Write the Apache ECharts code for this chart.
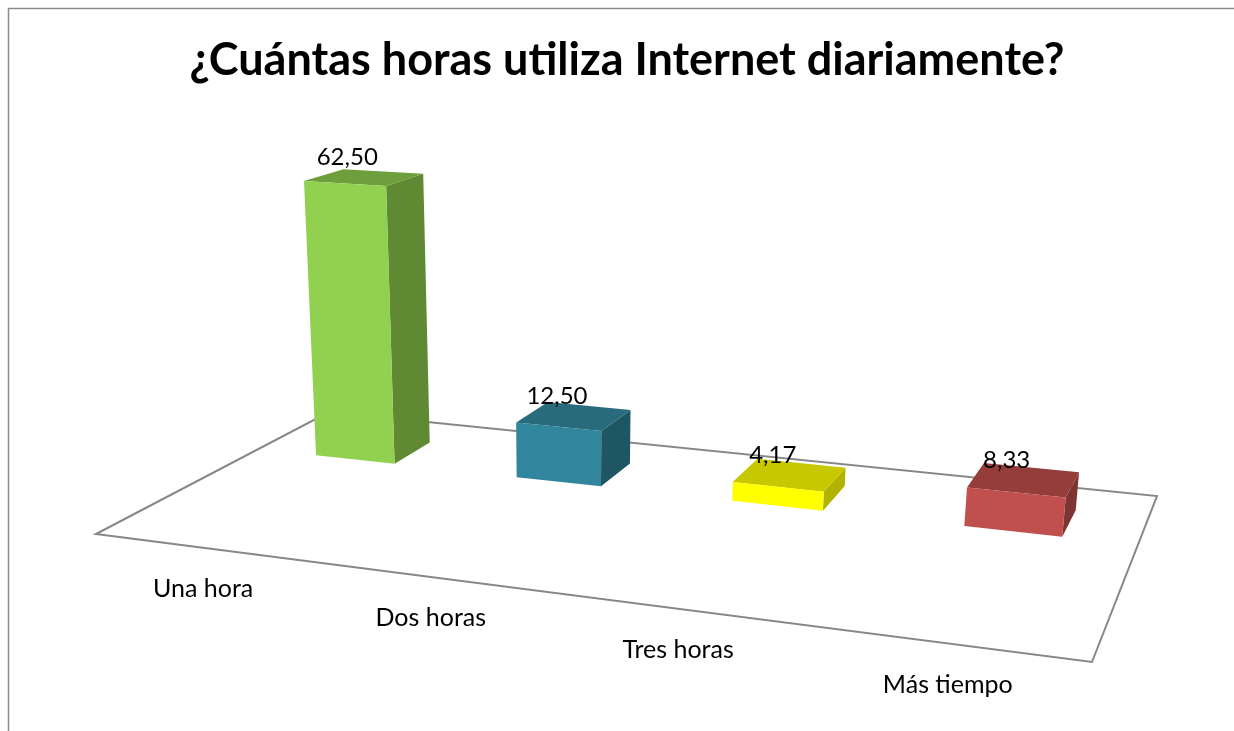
<!DOCTYPE html>
<html><head><meta charset="utf-8">
<script src="https://cdn.jsdelivr.net/npm/echarts@6/dist/echarts.min.js"></script>
<style>html,body{margin:0;padding:0;background:#fff}#c{width:1234px;height:731px}</style>
</head><body><div id="c"></div>
<script>
// ---- data ----
const chartTitle = '¿Cuántas horas utiliza Internet diariamente?';
const categories = ['Una hora', 'Dos horas', 'Tres horas', 'Más tiempo'];
const values = [62.50, 12.50, 4.17, 8.33];
const valueLabels = ['62,50', '12,50', '4,17', '8,33'];
const frontColors = ['#92D050', '#31859C', '#FFFF00', '#C0504D'];
const topColors = ['#6E9F3C', '#276B7C', '#C8C800', '#943D3A'];
const sideColors = ['#5F8A33', '#1F5664', '#B2B200', '#7D3432'];

// ---- perspective (floor quad corners + vertical column) ----
const FL = [96, 534], FR = [1092, 662], BR = [1157, 496], BL = [329, 412];
const VA = -0.466, VB = -5.1, VC = -0.000817;
const H = (function () {
  const x0 = FL[0], y0 = FL[1], x1 = FR[0], y1 = FR[1], x2 = BR[0], y2 = BR[1], x3 = BL[0], y3 = BL[1];
  const dx1 = x1 - x2, dx2 = x3 - x2, dx3 = x0 - x1 + x2 - x3;
  const dy1 = y1 - y2, dy2 = y3 - y2, dy3 = y0 - y1 + y2 - y3;
  const det = dx1 * dy2 - dx2 * dy1;
  const g = (dx3 * dy2 - dx2 * dy3) / det;
  const h = (dx1 * dy3 - dx3 * dy1) / det;
  return {
    a: x1 - x0 + g * x1, b: x3 - x0 + h * x3, c: x0,
    d: y1 - y0 + g * y1, e: y3 - y0 + h * y3, f: y0, g: g, h: h
  };
})();
const NCAT = categories.length;
function proj(X, T, Y) {
  const s = X / NCAT;
  const xh = H.a * s + H.b * T + H.c + VA * Y;
  const yh = H.d * s + H.e * T + H.f + VB * Y;
  const w = H.g * s + H.h * T + 1 + VC * Y;
  return [xh / w, yh / w];
}
const GAP = 0.3, TF = 0.655, TB = 0.84;
const FONT = 'Lato';

const chart = echarts.init(document.getElementById('c'), null, { renderer: 'canvas' });
chart.setOption({
  backgroundColor: '#ffffff',
  animation: false,
  title: {
    text: chartTitle, left: 622, top: 33, textAlign: 'center',
    textStyle: { fontFamily: FONT, fontSize: 45, fontWeight: 'bold', color: '#000' }
  },
  grid: { left: 0, top: 0, width: 400, height: 100, show: false },
  xAxis: { type: 'category', data: categories, show: false },
  yAxis: { type: 'value', min: 0, max: 100, show: false },
  graphic: [{
    type: 'rect', silent: true, z: 0,
    shape: { x: 8.5, y: 8.5, width: 1400, height: 1000 },
    style: { fill: 'none', stroke: '#8c8c8c', lineWidth: 1.5 }
  }],
  series: [{
    type: 'custom', z: 1, clip: false,
    data: [[0, 0]],
    renderItem: function () {
      return {
        type: 'polygon',
        shape: { points: [proj(0, 0, 0), proj(NCAT, 0, 0), proj(NCAT, 1, 0), proj(0, 1, 0)] },
        style: { fill: 'none', stroke: '#878787', lineWidth: 2 }
      };
    }
  }, {
    type: 'custom', z: 2, clip: false,
    data: values.map((v, i) => [i, v]),
    renderItem: function (params, api) {
      const i = params.dataIndex;
      const band = api.size([1, 0])[0];
      const base = api.coord([api.value(0), 0]);
      const top = api.coord([api.value(0), api.value(1)]);
      const cx = base[0] / band;          // category centre, category units
      const Y = base[1] - top[1];         // value (1 px per unit on hidden axis)
      const x0 = cx - 0.5 + GAP, x1 = cx + 0.5 - GAP;
      const front = [proj(x0, TF, 0), proj(x1, TF, 0), proj(x1, TF, Y), proj(x0, TF, Y)];
      const side = [proj(x1, TF, 0), proj(x1, TB, 0), proj(x1, TB, Y), proj(x1, TF, Y)];
      const topF = [proj(x0, TF, Y), proj(x1, TF, Y), proj(x1, TB, Y), proj(x0, TB, Y)];
      const lab = proj(cx, (TF + TB) / 2, Y);
      const cat = proj(cx, 0, 0);
      return {
        type: 'group',
        children: [
          { type: 'polygon', shape: { points: side }, style: { fill: sideColors[i] } },
          { type: 'polygon', shape: { points: topF }, style: { fill: topColors[i] } },
          { type: 'polygon', shape: { points: front }, style: { fill: frontColors[i] } },
          { type: 'text', x: lab[0] - 17, y: lab[1] - 20,
            style: { text: valueLabels[i], fontFamily: FONT, fontSize: 24, fill: '#000',
                     align: 'center', verticalAlign: 'middle' } },
          { type: 'text', x: cat[0], y: cat[1] + 41,
            style: { text: categories[i], fontFamily: FONT, fontSize: 25, fill: '#000',
                     align: 'center', verticalAlign: 'middle' } }
        ]
      };
    }
  }]
});
</script></body></html>
